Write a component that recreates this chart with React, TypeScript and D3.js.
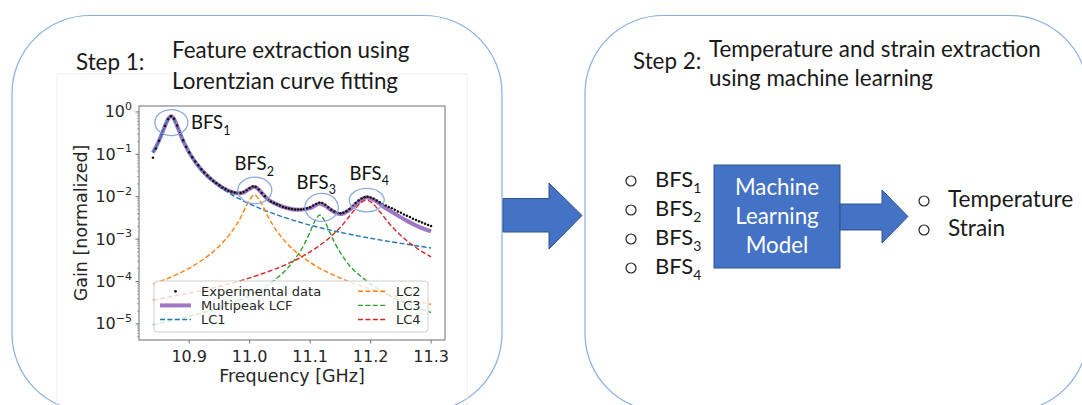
import React from 'react';
import * as d3 from 'd3';

// ---- data (frequency in GHz, gain as log10 of normalized gain) ----
const freqTicks = [10.9, 11.0, 11.1, 11.2, 11.3];
const gainTickExps = [0, -1, -2, -3, -4, -5];

const expData: [number, number][] = [
  [10.840, -1.08], [10.845, -0.86], [10.850, -0.68], [10.855, -0.51], [10.860, -0.33],
  [10.865, -0.17], [10.870, -0.10], [10.875, -0.16], [10.880, -0.32], [10.885, -0.50],
  [10.890, -0.67], [10.895, -0.82], [10.900, -0.95], [10.905, -1.07], [10.910, -1.17],
  [10.915, -1.26], [10.920, -1.35], [10.925, -1.43], [10.930, -1.50], [10.935, -1.57],
  [10.940, -1.63], [10.945, -1.68], [10.950, -1.73], [10.955, -1.78], [10.960, -1.82],
  [10.965, -1.86], [10.970, -1.88], [10.975, -1.90], [10.980, -1.91], [10.985, -1.91],
  [10.990, -1.89], [10.995, -1.85], [11.000, -1.80], [11.005, -1.76], [11.010, -1.77],
  [11.015, -1.83], [11.020, -1.91], [11.025, -1.99], [11.030, -2.06], [11.035, -2.11],
  [11.040, -2.15], [11.045, -2.18], [11.050, -2.21], [11.055, -2.24], [11.060, -2.26],
  [11.065, -2.28], [11.070, -2.29], [11.075, -2.30], [11.080, -2.30], [11.085, -2.30],
  [11.090, -2.29], [11.095, -2.27], [11.100, -2.25], [11.105, -2.21], [11.110, -2.17],
  [11.115, -2.14], [11.120, -2.15], [11.125, -2.19], [11.130, -2.25], [11.135, -2.31],
  [11.140, -2.35], [11.145, -2.38], [11.150, -2.39], [11.155, -2.38], [11.160, -2.34],
  [11.165, -2.29], [11.170, -2.22], [11.175, -2.15], [11.180, -2.09], [11.185, -2.04],
  [11.190, -2.01], [11.195, -2.00], [11.200, -2.02], [11.205, -2.05], [11.210, -2.09],
  [11.215, -2.13], [11.220, -2.17], [11.225, -2.21], [11.230, -2.24], [11.235, -2.27],
  [11.240, -2.31], [11.245, -2.35], [11.250, -2.38], [11.255, -2.42], [11.260, -2.45],
  [11.265, -2.48], [11.270, -2.52], [11.275, -2.55], [11.280, -2.58], [11.285, -2.61],
  [11.290, -2.64], [11.295, -2.67], [11.300, -2.69],
];

const lcfFit: [number, number][] = [
  [10.84, -0.96], [10.85, -0.68], [10.86, -0.33], [10.865, -0.17], [10.87, -0.10],
  [10.875, -0.17], [10.88, -0.33], [10.89, -0.68], [10.90, -0.96], [10.92, -1.36],
  [10.94, -1.63], [10.96, -1.825], [10.98, -1.92], [10.99, -1.90], [11.00, -1.81],
  [11.008, -1.765], [11.015, -1.83], [11.02, -1.91], [11.03, -2.06], [11.045, -2.18],
  [11.06, -2.26], [11.08, -2.31], [11.10, -2.27], [11.108, -2.21], [11.116, -2.16],
  [11.124, -2.21], [11.135, -2.32], [11.15, -2.41], [11.165, -2.31], [11.18, -2.12],
  [11.193, -2.01], [11.205, -2.07], [11.22, -2.22], [11.24, -2.40], [11.26, -2.57],
  [11.28, -2.71], [11.30, -2.82],
];

const lc1: [number, number][] = [
  [10.84, -0.96], [10.85, -0.68], [10.86, -0.33], [10.865, -0.17], [10.87, -0.10],
  [10.875, -0.17], [10.88, -0.33], [10.89, -0.68], [10.90, -0.96], [10.92, -1.36],
  [10.94, -1.64], [10.96, -1.86], [10.98, -2.03], [11.00, -2.17], [11.03, -2.35],
  [11.06, -2.50], [11.10, -2.67], [11.15, -2.84], [11.20, -2.98], [11.25, -3.10],
  [11.30, -3.21],
];

const lc2: [number, number][] = [
  [10.84, -4.06], [10.88, -3.83], [10.92, -3.51], [10.95, -3.16], [10.97, -2.83],
  [10.985, -2.49], [10.995, -2.20], [11.0, -2.07], [11.008, -1.96], [11.015, -2.05],
  [11.02, -2.17], [11.03, -2.46], [11.045, -2.81], [11.065, -3.15], [11.10, -3.55],
  [11.15, -3.92], [11.20, -4.18], [11.25, -4.38], [11.30, -4.54],
];

const lc3: [number, number][] = [
  [10.84, -5.02], [10.90, -4.82], [10.96, -4.57], [11.00, -4.33], [11.04, -3.98],
  [11.07, -3.56], [11.09, -3.13], [11.10, -2.83], [11.108, -2.57], [11.116, -2.43],
  [11.124, -2.57], [11.13, -2.76], [11.14, -3.07], [11.16, -3.53], [11.19, -3.95],
  [11.23, -4.32], [11.27, -4.58], [11.30, -4.73],
];

const lc4: [number, number][] = [
  [10.84, -4.44], [10.90, -4.27], [10.96, -4.08], [11.02, -3.82], [11.06, -3.60],
  [11.10, -3.30], [11.13, -2.99], [11.15, -2.72], [11.17, -2.37], [11.183, -2.15],
  [11.193, -2.08], [11.203, -2.15], [11.215, -2.35], [11.235, -2.70], [11.26, -3.04],
  [11.28, -3.25], [11.30, -3.42],
];

const peakLabels = ['1', '2', '3', '4'];
const outputLabels = ['Temperature', 'Strain'];
const legendLeft = ['Experimental data', 'Multipeak LCF', 'LC1'];
const legendRight = ['LC2', 'LC3', 'LC4'];

// ---- styles ----
const C = {
  lc1: '#1f77b4', lc2: '#ff7f0e', lc3: '#2ca02c', lc4: '#d62728', fit: '#9467bd',
  box: '#8aaee0', ring: '#8eaadb', arrow: '#4472c4', arrowEdge: '#2f528f',
};
const mpl = 'DejaVu Sans, sans-serif';
const ui = 'Lato, "Open Sans", sans-serif';

export default function App() {
  const x = d3.scaleLinear().domain([10.817, 11.323]).range([139, 445]);
  const y = d3.scaleLog().domain([Math.pow(10, -5.38), Math.pow(10, 0.14)]).range([340, 106]);
  const line = d3
    .line<[number, number]>()
    .x((d) => x(d[0]))
    .y((d) => y(Math.pow(10, d[1])))
    .curve(d3.curveMonotoneX);

  const minorTicks: number[] = [];
  for (let k = -6; k <= 0; k++) {
    for (let m = 2; m <= 9; m++) {
      const v = m * Math.pow(10, k);
      if (v >= y.domain()[0] && v <= y.domain()[1]) minorTicks.push(v);
    }
  }

  const dash = '5,2.4';
  const lcSeries = [
    { d: lc1, c: C.lc1 },
    { d: lc2, c: C.lc2 },
    { d: lc3, c: C.lc3 },
    { d: lc4, c: C.lc4 },
  ];

  const rings = [
    { f: 10.8705, g: -0.25, rx: 16.5, ry: 13 },
    { f: 11.0085, g: -1.85, rx: 17, ry: 13.3 },
    { f: 11.119, g: -2.25, rx: 16.7, ry: 14 },
    { f: 11.1935, g: -2.08, rx: 17.5, ry: 11.7 },
  ];
  const ringLabels = [
    { x: 191, y: 129 },
    { x: 234.5, y: 170 },
    { x: 296.5, y: 188.5 },
    { x: 349.5, y: 179.5 },
  ];

  const rowY = [291.3, 305.4, 319.5];

  return (
    <svg
      width={1082}
      height={405}
      style={{ position: 'absolute', left: 0, top: 0, background: '#fff' }}
    >
      <defs>
        <clipPath id="plotClip">
          <rect x={139} y={106} width={306} height={234} />
        </clipPath>
      </defs>

      {/* Step boxes */}
      <rect x={12} y={15.5} width={490} height={396} rx={78} ry={78} fill="none" stroke={C.box} strokeWidth={1.2} />
      <rect x={585} y={15.5} width={503} height={396} rx={78} ry={78} fill="none" stroke={C.box} strokeWidth={1.2} />

      {/* faint border of embedded plot image */}
      <rect x={57} y={74} width={410} height={338} fill="none" stroke="#efefef" strokeWidth={1} />

      {/* Step titles */}
      <g fontFamily={ui} fill="#1a1a1a" fontSize={22.4}>
        <text x={76} y={70}>Step 1:</text>
        <text x={172} y={58}>Feature extraction using</text>
        <text x={172} y={89}>Lorentzian curve fitting</text>
        <text x={633} y={69}>Step 2:</text>
        <text x={709} y={57}>Temperature and strain extraction</text>
        <text x={709} y={86}>using machine learning</text>
      </g>

      {/* ---- chart ---- */}
      <g clipPath="url(#plotClip)">
        <path d={line(lcfFit) || ''} fill="none" stroke={C.fit} strokeWidth={4} strokeOpacity={0.9} strokeLinejoin="round" />
        {lcSeries.map((s, i) => (
          <path key={i} d={line(s.d) || ''} fill="none" stroke={s.c} strokeWidth={1.4} strokeDasharray={dash} />
        ))}
        {expData.map((d, i) => (
          <circle key={i} cx={x(d[0])} cy={y(Math.pow(10, d[1]))} r={1.25} fill="#111" />
        ))}
      </g>

      {/* frame */}
      <rect x={139} y={106} width={306} height={234} fill="none" stroke="#6e6e6e" strokeWidth={1} />

      {/* x ticks */}
      <g fontFamily={mpl} fontSize={16} fill="#262626">
        {freqTicks.map((t) => (
          <g key={t}>
            <line x1={x(t)} x2={x(t)} y1={340} y2={343.5} stroke="#6e6e6e" />
            <text x={x(t)} y={362} textAnchor="middle">{t.toFixed(1)}</text>
          </g>
        ))}
        <text x={292} y={382} textAnchor="middle" fontSize={17.5}>Frequency [GHz]</text>
      </g>

      {/* y ticks */}
      <g fontFamily={mpl} fill="#262626">
        {minorTicks.map((v, i) => (
          <line key={i} x1={137} x2={139} y1={y(v)} y2={y(v)} stroke="#8a8a8a" strokeWidth={0.7} />
        ))}
        {gainTickExps.map((e) => {
          const yy = y(Math.pow(10, e));
          return (
            <g key={e}>
              <line x1={135.5} x2={139} y1={yy} y2={yy} stroke="#6e6e6e" />
              <text x={132} y={yy + 5.5} textAnchor="end" fontSize={16}>
                10
                <tspan dy={-7.5} fontSize={11}>{e === 0 ? '0' : '\u2212' + Math.abs(e)}</tspan>
              </text>
            </g>
          );
        })}
        <text transform="translate(87,223) rotate(-90)" textAnchor="middle" fontSize={17.5}>Gain [normalized]</text>
      </g>

      {/* BFS rings and labels */}
      {rings.map((r, i) => (
        <ellipse key={i} cx={x(r.f)} cy={y(Math.pow(10, r.g))} rx={r.rx} ry={r.ry} fill="none" stroke={C.ring} strokeWidth={1.3} />
      ))}
      <g fontFamily={ui} fontSize={18.5} fill="#111">
        {ringLabels.map((p, i) => (
          <text key={i} x={p.x} y={p.y}>
            BFS<tspan dy={5.5} fontSize={12.5}>{peakLabels[i]}</tspan>
          </text>
        ))}
      </g>

      {/* legend */}
      <rect x={154} y={281} width={274} height={51} rx={3} fill="#fff" fillOpacity={0.8} stroke="#cfcfcf" strokeWidth={1} />
      <g fontFamily={mpl} fontSize={13} fill="#262626">
        <circle cx={175.5} cy={rowY[0]} r={1.4} fill="#111" />
        <line x1={160} x2={191} y1={rowY[1]} y2={rowY[1]} stroke={C.fit} strokeWidth={4} strokeOpacity={0.9} />
        <line x1={160} x2={191} y1={rowY[2]} y2={rowY[2]} stroke={C.lc1} strokeWidth={1.4} strokeDasharray={dash} />
        {legendLeft.map((t, i) => (
          <text key={t} x={201} y={rowY[i] + 4.5}>{t}</text>
        ))}
        {legendRight.map((t, i) => (
          <g key={t}>
            <line x1={358} x2={386} y1={rowY[i]} y2={rowY[i]} stroke={[C.lc2, C.lc3, C.lc4][i]} strokeWidth={1.4} strokeDasharray={dash} />
            <text x={396} y={rowY[i] + 4.5}>{t}</text>
          </g>
        ))}
      </g>

      {/* big arrow between steps */}
      <polygon
        points="503,198.5 549,198.5 549,183 582,215.5 549,249 549,232 503,232"
        fill={C.arrow}
        stroke={C.arrowEdge}
        strokeWidth={1}
      />

      {/* Step 2 content */}
      <g fontFamily={ui} fill="#1a1a1a" fontSize={22}>
        {peakLabels.map((p, i) => (
          <g key={p}>
            <circle cx={631} cy={181 + i * 29} r={5} fill="none" stroke="#222" strokeWidth={1.2} />
            <text x={655} y={187 + i * 29}>
              BFS<tspan dy={5.5} fontSize={14}>{p}</tspan>
            </text>
          </g>
        ))}
        {outputLabels.map((t, i) => (
          <g key={t}>
            <circle cx={924} cy={201 + i * 29} r={5} fill="none" stroke="#222" strokeWidth={1.2} />
            <text x={948} y={207 + i * 29} fontSize={22.6}>{t}</text>
          </g>
        ))}
      </g>

      <rect x={714} y={165} width={126} height={103} fill={C.arrow} stroke={C.arrowEdge} strokeWidth={1} />
      <g fontFamily={ui} fill="#fff" fontSize={22.3} textAnchor="middle">
        <text x={777} y={195}>Machine</text>
        <text x={777} y={224}>Learning</text>
        <text x={777} y={253}>Model</text>
      </g>
      <polygon
        points="840,204 882,204 882,190 908,216.5 882,243 882,230 840,230"
        fill={C.arrow}
        stroke={C.arrowEdge}
        strokeWidth={1}
      />
    </svg>
  );
}
